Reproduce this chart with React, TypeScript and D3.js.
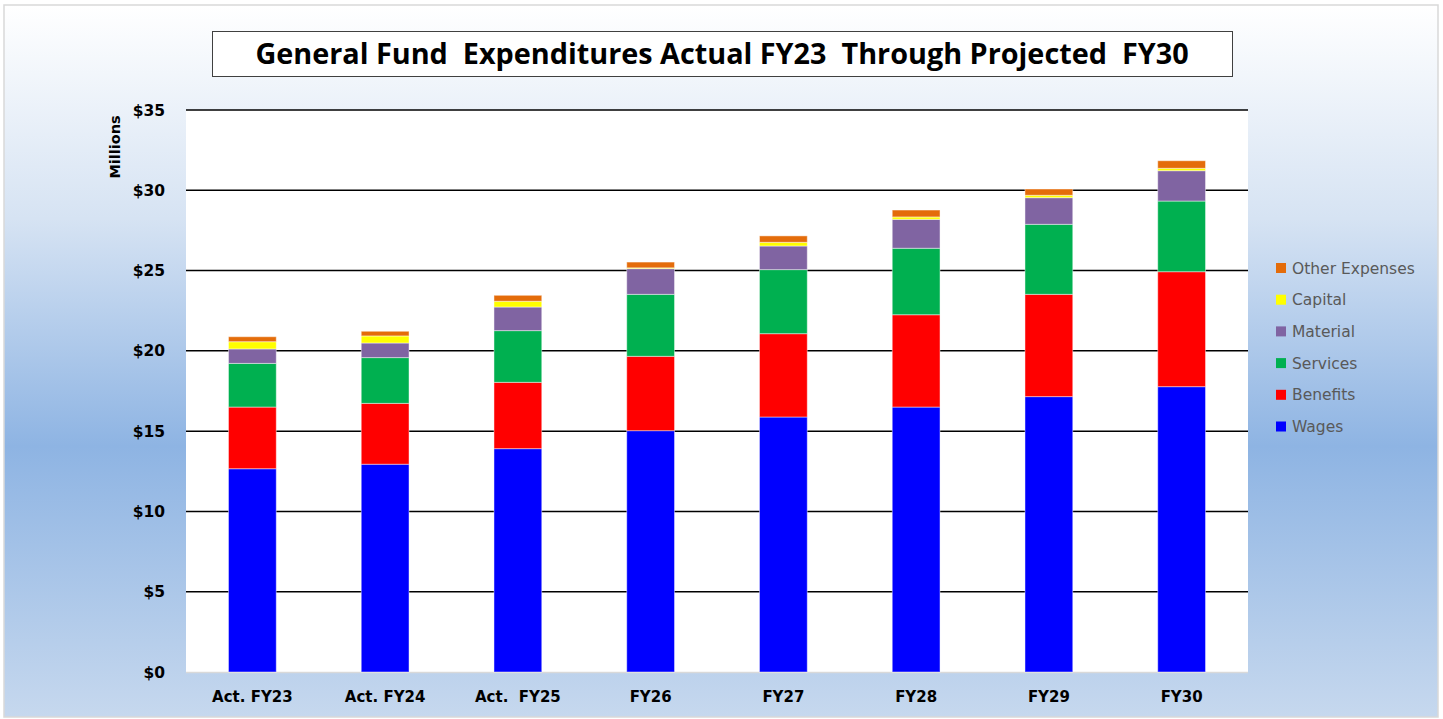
import React from "react";
import * as d3 from "d3";

const years = ["Act. FY23", "Act. FY24", "Act.  FY25", "FY26", "FY27", "FY28", "FY29", "FY30"];
const series = ["Wages", "Benefits", "Services", "Material", "Capital", "Other Expenses"];
const colors = ["#0000ff", "#ff0000", "#00b050", "#8064a2", "#ffff00", "#e46c0a"];

// millions of dollars
const wages = [12.66, 12.94, 13.91, 15.03, 15.88, 16.5, 17.15, 17.77];
const benefits = [3.84, 3.79, 4.13, 4.63, 5.19, 5.75, 6.37, 7.16];
const services = [2.72, 2.85, 3.22, 3.86, 3.99, 4.14, 4.36, 4.4];
const material = [0.9, 0.91, 1.47, 1.6, 1.47, 1.8, 1.66, 1.89];
const capital = [0.45, 0.44, 0.36, 0.05, 0.23, 0.15, 0.15, 0.15];
const other = [0.31, 0.29, 0.37, 0.36, 0.4, 0.43, 0.39, 0.47];
const yTicks = [0, 5, 10, 15, 20, 25, 30, 35];

const W = 1443;
const H = 719;
const plot = { left: 186, right: 1248, top: 110, bottom: 672 };
const titleFont = "'Open Sans', Lato, sans-serif";
const font = "'DejaVu Sans', Verdana, sans-serif";

const App = () => {
  const table = years.map((y, i) => ({
    year: y,
    Wages: wages[i],
    Benefits: benefits[i],
    Services: services[i],
    Material: material[i],
    Capital: capital[i],
    "Other Expenses": other[i],
  }));
  const stacked = d3.stack<any>().keys(series)(table);

  const x = d3.scaleBand().domain(years).range([plot.left, plot.right]).paddingInner(0.64).paddingOuter(0.32);
  const y = d3.scaleLinear().domain([0, 35]).range([plot.bottom, plot.top]);
  const legendItems = series.slice().reverse();

  return (
    <svg width={W} height={H} style={{ position: "absolute", left: 0, top: 0 }}>
      <defs>
        <linearGradient id="bg" x1="0" y1="0" x2="0" y2="1">
          <stop offset="0" stopColor="#ffffff" />
          <stop offset="0.3" stopColor="#d6e3f3" />
          <stop offset="0.62" stopColor="#8eb4e3" />
          <stop offset="1" stopColor="#c6d8ee" />
        </linearGradient>
      </defs>
      <rect x={4} y={5} width={1434} height={712} fill="url(#bg)" stroke="#d9d9d9" strokeWidth={1.5} />

      <rect x={212.5} y={31.5} width={1020} height={45} fill="#ffffff" stroke="#404040" strokeWidth={1} />
      <text x={722} y={64} textAnchor="middle" fontFamily={titleFont} fontWeight={700} fontSize={28.8} fill="#000" style={{ whiteSpace: "pre" }}>
        {"General Fund  Expenditures Actual FY23  Through Projected  FY30"}
      </text>

      <rect x={plot.left} y={plot.top} width={plot.right - plot.left} height={plot.bottom - plot.top} fill="#ffffff" />
      {yTicks.map((t) => (
        <g key={t}>
          {t > 0 && (
            <line x1={plot.left} x2={plot.right} y1={y(t)} y2={y(t)} stroke="#000" strokeWidth={1.5} />
          )}
          <text x={165} y={y(t) + 5.5} textAnchor="end" fontFamily={font} fontWeight={700} fontSize={15.5} fill="#000">
            ${t}
          </text>
        </g>
      ))}
      <line x1={plot.left} x2={plot.right} y1={plot.bottom + 0.5} y2={plot.bottom + 0.5} stroke="#d9d9d9" strokeWidth={1.5} />
      <text transform={`translate(120,147) rotate(-90)`} textAnchor="middle" fontFamily={font} fontWeight={700} fontSize={14.5} fill="#000">
        Millions
      </text>

      {stacked.map((layer, si) => (
        <g key={series[si]} fill={colors[si]}>
          {layer.map((d, i) => (
            <rect
              key={i}
              x={x(years[i])}
              y={y(d[1])}
              width={x.bandwidth()}
              height={Math.max(0, y(d[0]) - y(d[1]))}
              stroke="rgba(255,255,255,0.45)"
              strokeWidth={1}
            />
          ))}
        </g>
      ))}

      {years.map((yr) => (
        <text
          key={yr}
          x={(x(yr) as number) + x.bandwidth() / 2}
          y={702}
          textAnchor="middle"
          fontFamily={font}
          fontWeight={700}
          fontSize={15}
          fill="#000"
          style={{ whiteSpace: "pre" }}
        >
          {yr}
        </text>
      ))}

      {legendItems.map((s, i) => {
        const idx = series.indexOf(s);
        const ly = 268 + i * 31.7;
        return (
          <g key={s}>
            <rect x={1276} y={ly - 5} width={10} height={10} fill={colors[idx]} />
            <text x={1292} y={ly + 5.5} fontFamily={font} fontSize={15.5} fill="#595959">
              {s}
            </text>
          </g>
        );
      })}
    </svg>
  );
};

export default App;
